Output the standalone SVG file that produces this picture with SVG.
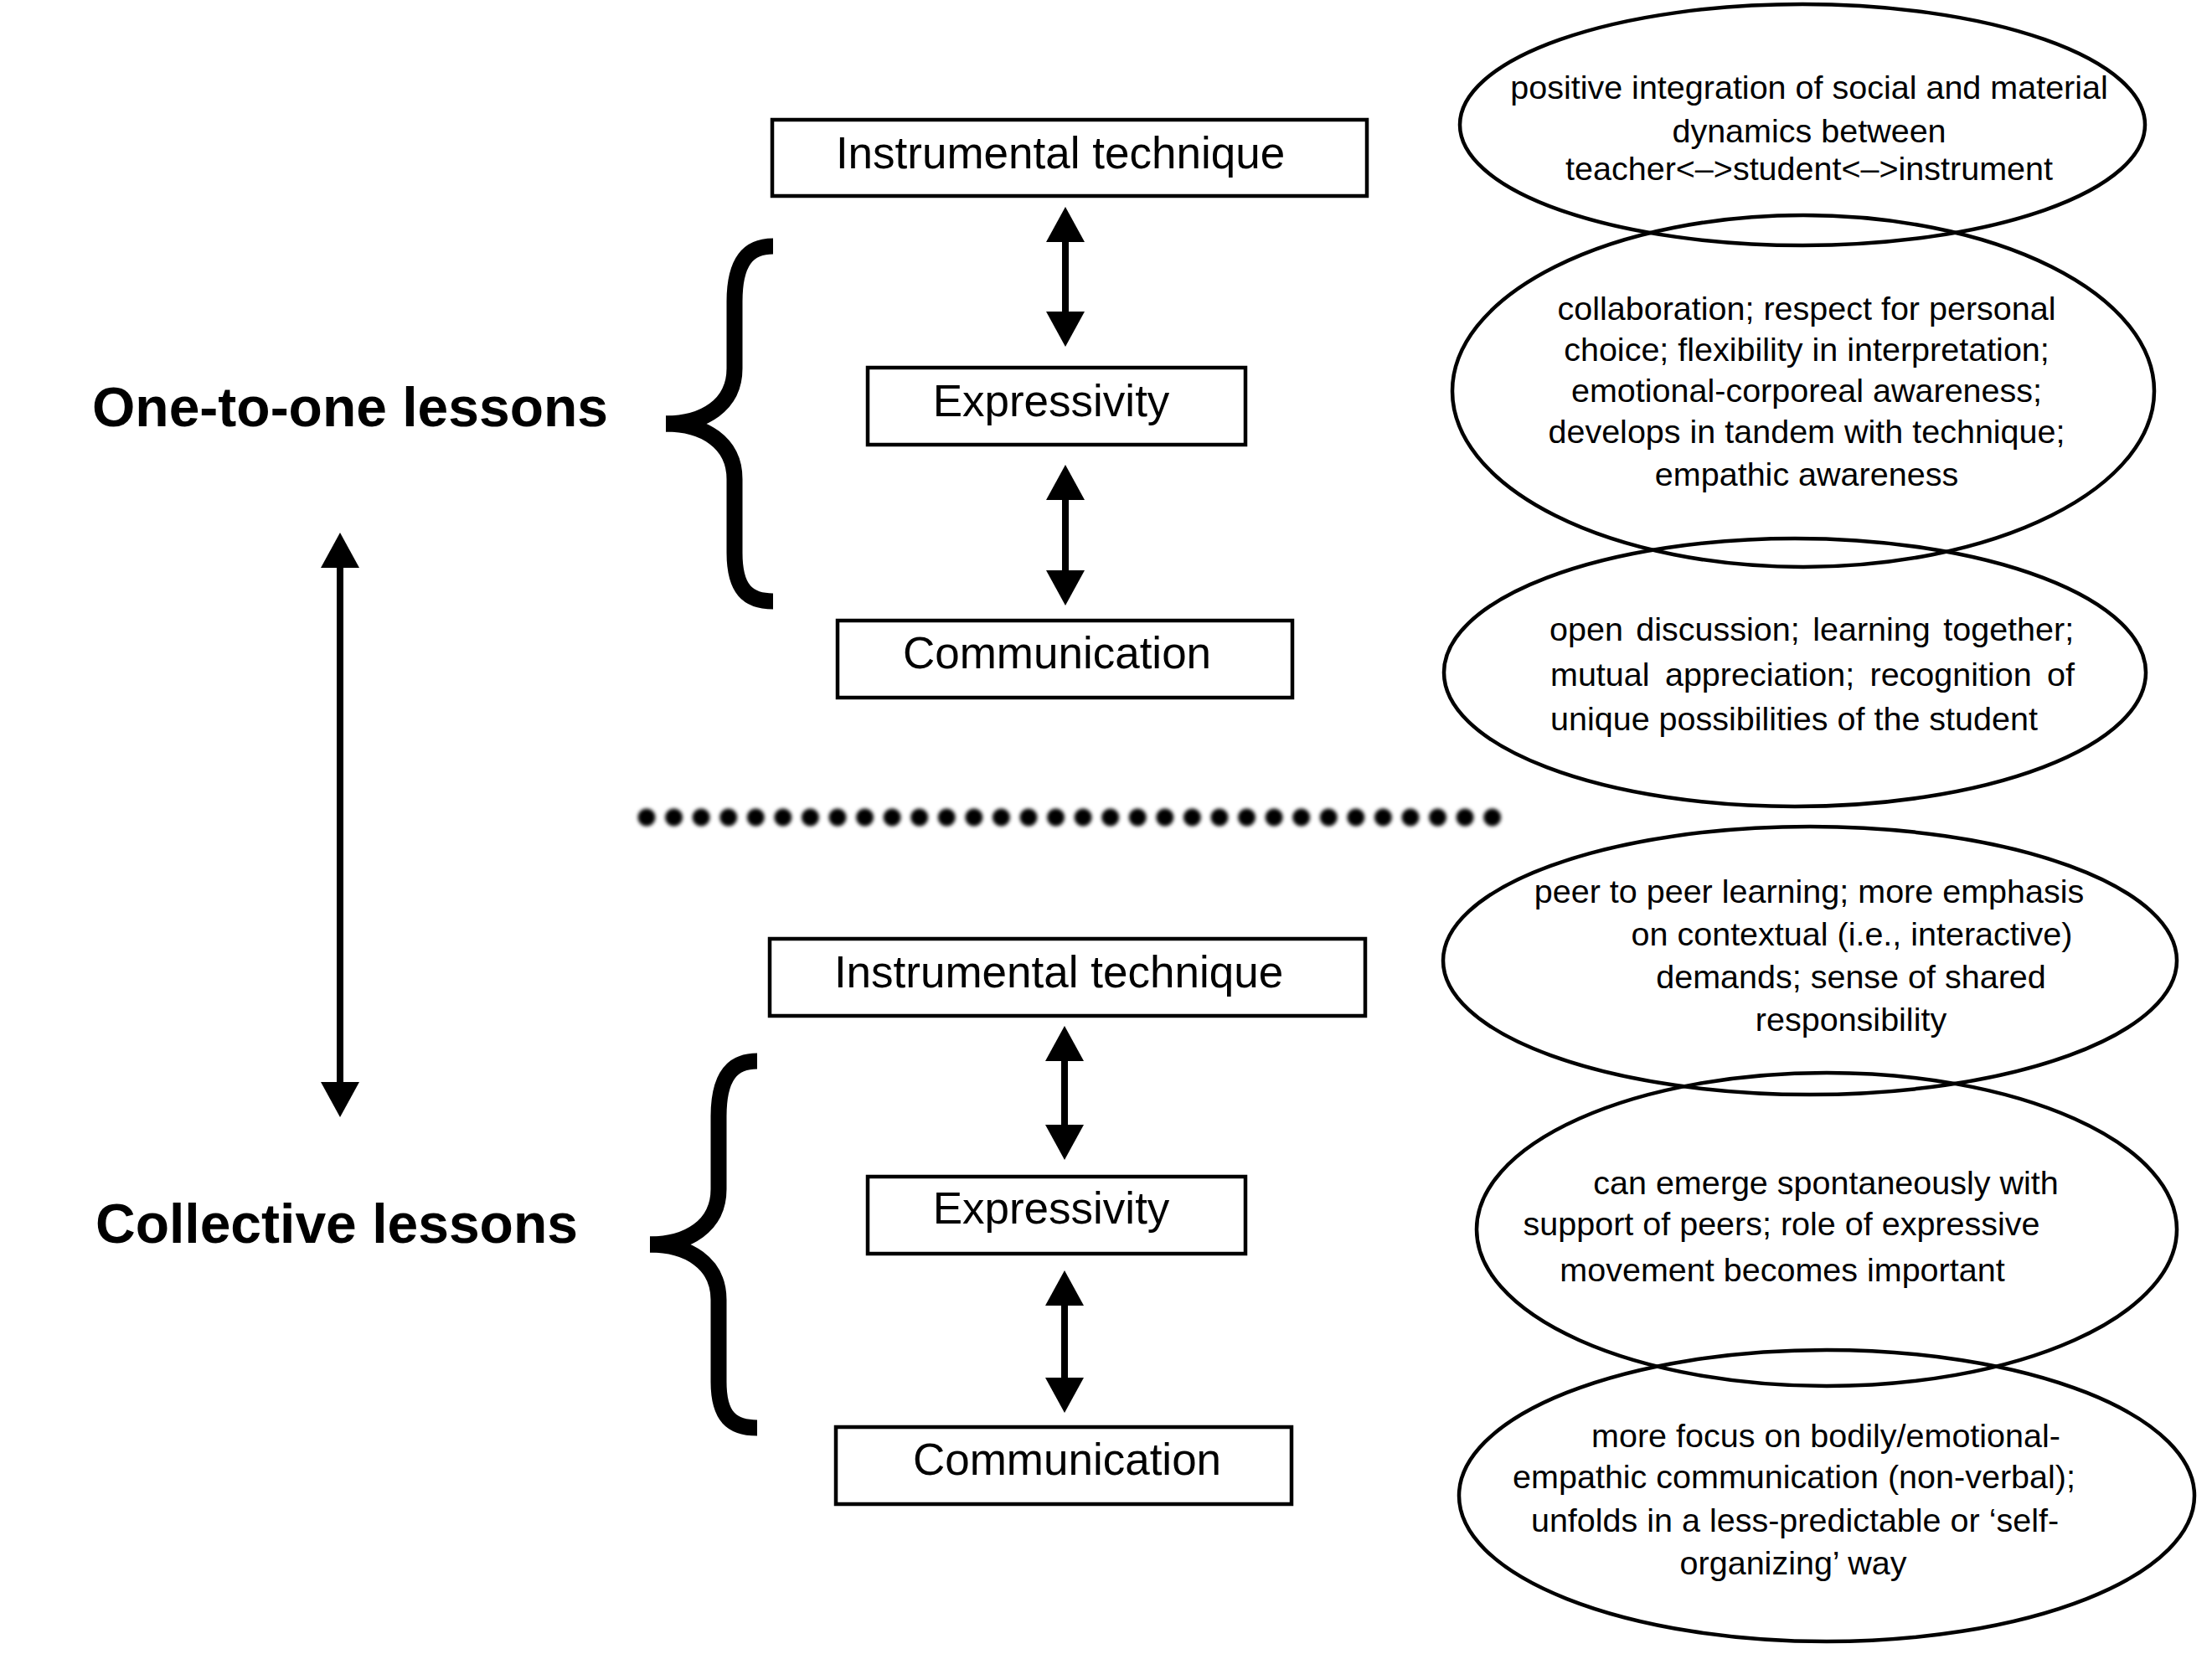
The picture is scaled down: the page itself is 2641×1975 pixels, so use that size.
<svg xmlns="http://www.w3.org/2000/svg" width="2641" height="1975" viewBox="0 0 2641 1975">
<style>
.box{fill:#fff;stroke:#000;stroke-width:4.5}
.bt{font-family:"Liberation Sans",Arial,sans-serif;font-size:53px;fill:#000;text-anchor:middle}
.lb{font-family:"Liberation Sans",Arial,sans-serif;font-size:66px;font-weight:bold;fill:#000}
.el{fill:none;stroke:#000;stroke-width:4.5}
.et{font-family:"Liberation Sans",Arial,sans-serif;font-size:39.5px;fill:#000;text-anchor:middle}
.ej{font-family:"Liberation Sans",Arial,sans-serif;font-size:39.5px;fill:#000}
.arr{stroke:#000;stroke-width:8;fill:none;marker-start:url(#ah);marker-end:url(#ah)}
.brace{fill:none;stroke:#000;stroke-width:19;stroke-linecap:butt}
</style>
<defs>
<marker id="ah" markerUnits="userSpaceOnUse" markerWidth="42" markerHeight="46" viewBox="0 0 42 46" refX="0" refY="23" orient="auto-start-reverse">
<path d="M0,0 L42,23 L0,46 z" fill="#000"/>
</marker>
<filter id="soft" filterUnits="userSpaceOnUse" x="740" y="940" width="1080" height="72">
<feGaussianBlur stdDeviation="2.2"/>
</filter>
</defs>
<rect width="2641" height="1975" fill="#fff"/>

<g id="label-one-to-one">
<text class="lb" x="110" y="509">One-to-one lessons</text>
</g>
<g id="label-collective">
<text class="lb" x="114" y="1484">Collective lessons</text>
</g>

<g id="brace-top">
<path class="brace" d="M923,294 C893,294 877,312 877,360 L877,440 C877,484 840,506 795,506"/>
<path class="brace" d="M795,506 C840,506 877,528 877,572 L877,660 C877,704 893,718 923,718"/>
</g>
<g id="brace-bottom">
<path class="brace" d="M904,1267 C874,1267 858,1285 858,1333 L858,1420 C858,1464 821,1486 776,1486"/>
<path class="brace" d="M776,1486 C821,1486 858,1508 858,1552 L858,1650 C858,1692 874,1705 904,1705"/>
</g>

<g id="node-tech1">
<rect class="box" x="922" y="143" width="710" height="91"/>
<text class="bt" x="1266" y="201">Instrumental technique</text>
</g>
<g id="node-expr1">
<rect class="box" x="1036" y="439" width="451" height="92"/>
<text class="bt" x="1255" y="497">Expressivity</text>
</g>
<g id="node-comm1">
<rect class="box" x="1000" y="741" width="543" height="92"/>
<text class="bt" x="1262" y="798">Communication</text>
</g>
<g id="node-tech2">
<rect class="box" x="919" y="1121" width="711" height="92"/>
<text class="bt" x="1264" y="1179">Instrumental technique</text>
</g>
<g id="node-expr2">
<rect class="box" x="1036" y="1405" width="451" height="92"/>
<text class="bt" x="1255" y="1461">Expressivity</text>
</g>
<g id="node-comm2">
<rect class="box" x="998" y="1704" width="544" height="92"/>
<text class="bt" x="1274" y="1761">Communication</text>
</g>

<g id="connectors">
<line class="arr" x1="1272" y1="289" x2="1272" y2="372"/>
<line class="arr" x1="1272" y1="597" x2="1272" y2="681"/>
<line class="arr" x1="1271" y1="1267" x2="1271" y2="1343"/>
<line class="arr" x1="1271" y1="1559" x2="1271" y2="1645"/>
<line class="arr" x1="406" y1="678" x2="406" y2="1292"/>
</g>

<g id="separator">
<line x1="772" y1="976" x2="1782" y2="976" stroke="#000" stroke-width="21" stroke-linecap="round" stroke-dasharray="0 32.57" filter="url(#soft)"/>
</g>

<g id="ellipse-1">
<ellipse class="el" cx="2152" cy="149" rx="409" ry="144"/>
<text class="et" x="2160" y="118">positive integration of social and material</text>
<text class="et" x="2160" y="170">dynamics between</text>
<text class="et" x="2160" y="215">teacher&lt;–&gt;student&lt;–&gt;instrument</text>
</g>
<g id="ellipse-2">
<ellipse class="el" cx="2153" cy="467" rx="419" ry="210"/>
<text class="et" x="2157" y="382">collaboration; respect for personal</text>
<text class="et" x="2157" y="431">choice; flexibility in interpretation;</text>
<text class="et" x="2157" y="480">emotional-corporeal awareness;</text>
<text class="et" x="2157" y="529">develops in tandem with technique;</text>
<text class="et" x="2157" y="580">empathic awareness</text>
</g>
<g id="ellipse-3">
<ellipse class="el" cx="2143" cy="803" rx="419" ry="160"/>
<text class="ej" x="1850" y="765" word-spacing="4.5">open discussion; learning together;</text>
<text class="ej" x="1851" y="819" word-spacing="7.4">mutual appreciation; recognition of</text>
<text class="ej" x="1851" y="872">unique possibilities of the student</text>
</g>
<g id="ellipse-4">
<ellipse class="el" cx="2161" cy="1147" rx="438" ry="160"/>
<text class="et" x="2160" y="1078">peer to peer learning; more emphasis</text>
<text class="et" x="2211" y="1129">on contextual (i.e., interactive)</text>
<text class="et" x="2210" y="1180">demands; sense of shared</text>
<text class="et" x="2210" y="1231">responsibility</text>
</g>
<g id="ellipse-5">
<ellipse class="el" cx="2181" cy="1468" rx="418" ry="187"/>
<text class="et" x="2180" y="1426">can emerge spontaneously with</text>
<text class="et" x="2127" y="1475">support of peers; role of expressive</text>
<text class="et" x="2128" y="1530">movement becomes important</text>
</g>
<g id="ellipse-6">
<ellipse class="el" cx="2181" cy="1786" rx="439" ry="174"/>
<text class="et" x="2180" y="1728">more focus on bodily/emotional-</text>
<text class="et" x="2142" y="1777">empathic communication (non-verbal);</text>
<text class="et" x="2143" y="1829">unfolds in a less-predictable or ‘self-</text>
<text class="et" x="2141" y="1880">organizing’ way</text>
</g>
</svg>
